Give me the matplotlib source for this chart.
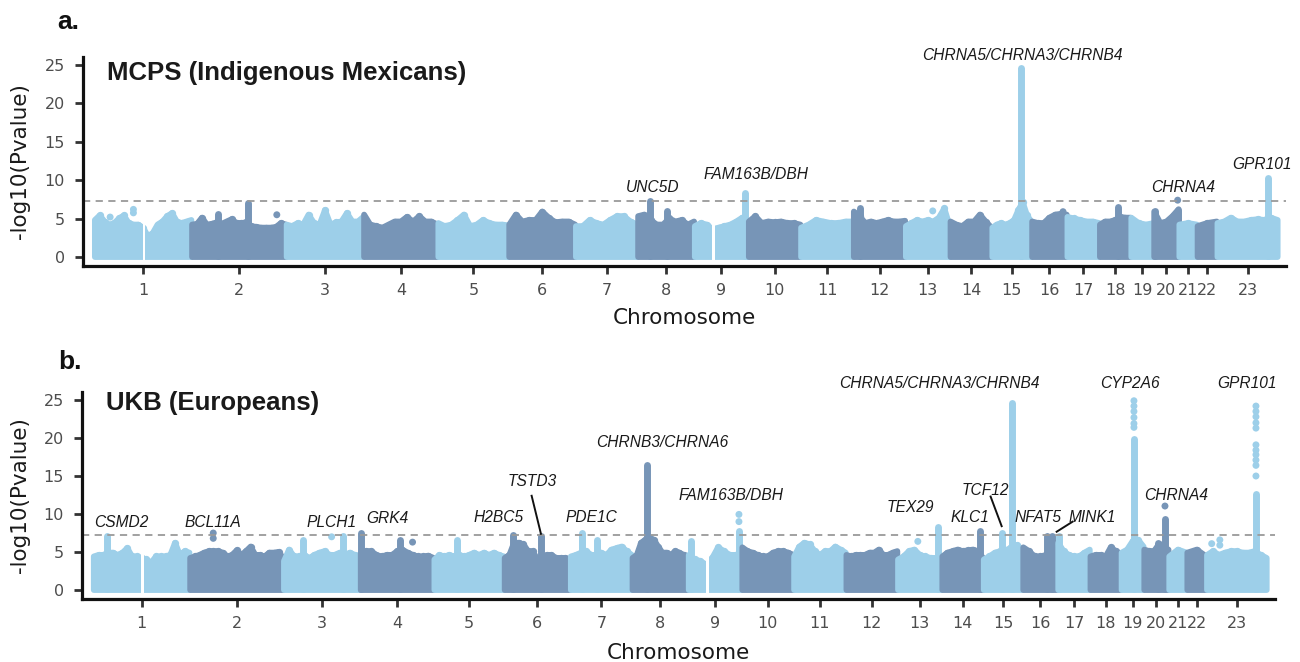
import numpy as np
import matplotlib
matplotlib.use("Agg")
import matplotlib.pyplot as plt

# ---------------- data ----------------
CHROM_LABELS = [str(i) for i in range(1, 24)]
CHROM_LENGTH_MB = [248.96, 242.19, 198.30, 190.21, 181.54, 170.81, 159.35, 145.14,
                   138.39, 133.80, 135.09, 133.28, 114.36, 107.04, 101.99, 90.34,
                   83.26, 80.37, 58.62, 64.44, 46.71, 50.82, 156.04]
GAP_CHROM = [1, 9]
GAP_START_MB = [123.0, 46.0]
GAP_END_MB = [130.0, 53.0]
SIG_THRESHOLD = 7.3

# upper envelope of the dense point cloud, evenly spaced along each chromosome
MCPS_BAND = [
    [5.2, 5.8, 5.0, 4.6, 4.8, 5.4, 5.8, 4.8, 4.6, 4.6, 4.2, 3.1, 3.5, 4.6, 5.0, 5.7, 6.1, 5.0, 4.8, 5.0, 5.2],
    [4.6, 4.7, 5.5, 4.6, 4.7, 4.9, 4.7, 5.0, 5.3, 4.8, 4.8, 4.9, 4.4, 4.3, 4.2, 4.2, 4.2, 4.3, 4.8, 4.6],
    [4.6, 4.4, 4.8, 4.6, 5.9, 4.8, 4.6, 6.5, 4.6, 4.9, 5.0, 6.1, 5.0, 5.0, 5.6],
    [5.9, 4.6, 4.4, 4.2, 4.6, 5.0, 5.0, 5.6, 5.0, 5.7, 5.0, 5.0, 4.6],
    [4.8, 4.4, 4.6, 5.2, 5.9, 4.4, 4.6, 5.2, 4.8, 4.6, 4.6, 4.5],
    [4.6, 5.9, 5.0, 5.2, 5.2, 6.3, 5.5, 4.9, 5.0, 5.0, 4.6],
    [4.4, 4.4, 5.2, 4.8, 4.6, 5.2, 5.7, 5.7, 5.0, 4.6],
    [5.7, 5.9, 5.2, 4.6, 4.6, 5.4, 5.0, 5.2, 4.6, 5.0],
    [4.4, 4.8, 4.6, 4.0, 4.2, 4.4, 4.6, 5.0, 5.5, 5.0],
    [5.0, 5.7, 4.8, 5.0, 4.9, 5.0, 4.8, 4.8, 4.6],
    [4.2, 4.6, 5.2, 5.0, 4.8, 4.8, 5.0, 5.0],
    [6.3, 5.7, 4.8, 5.0, 4.8, 5.0, 5.2, 5.0, 5.0, 5.1],
    [4.4, 4.8, 5.2, 5.0, 5.2, 5.0, 5.5, 6.7, 4.4],
    [5.0, 4.6, 4.4, 5.0, 5.0, 5.9, 5.0, 4.2],
    [4.2, 4.6, 4.8, 4.6, 4.8, 5.2, 6.5, 7.5, 5.8, 5.0],
    [5.0, 4.8, 4.8, 5.5, 5.9, 6.0, 5.9],
    [5.6, 5.4, 5.2, 5.0, 5.0, 4.8],
    [4.6, 5.0, 5.0, 5.2, 5.6, 5.5, 5.5],
    [5.5, 4.8, 4.6, 4.8],
    [6.3, 4.8, 5.0, 5.7, 6.6],
    [4.6, 4.8, 4.6],
    [4.4, 4.8, 5.0],
    [4.8, 5.0, 5.5, 5.0, 5.0, 5.2, 5.3, 5.2, 5.5, 5.2],
]
MCPS_PEAK_CHROM = [2, 2, 8, 8, 9, 12, 15, 18, 20, 20, 23]
MCPS_PEAK_POS_MB = [143.6, 66.7, 31.4, 74.0, 129.6, 16.0, 73.5, 48.0, 61.0, 2.0, 129.6]
MCPS_PEAK_TOP = [7.5, 6.1, 7.8, 6.5, 8.8, 6.8, 25.0, 6.9, 6.6, 6.4, 10.7]
MCPS_DOT_CHROM = [1, 1, 1, 2, 13, 16, 20]
MCPS_DOT_POS_MB = [99.6, 99.6, 40.0, 217.9, 69.7, 80.0, 61.0]
MCPS_DOT_VALUE = [6.2, 5.75, 5.2, 5.5, 6.0, 5.9, 7.4]

UKB_BAND = [
    [4.8, 5.0, 5.0, 5.3, 5.3, 5.0, 5.3, 5.9, 4.8, 4.8, 4.6, 4.4, 4.0, 4.8, 4.8, 4.8, 5.0, 6.6, 5.0, 5.5, 5.3],
    [4.6, 4.8, 5.0, 5.3, 5.5, 5.5, 5.5, 5.3, 4.8, 5.0, 5.6, 5.0, 5.5, 6.1, 5.0, 5.0, 4.8, 5.3, 5.3, 5.4, 4.6],
    [4.2, 5.7, 4.8, 4.8, 5.0, 4.6, 5.0, 5.3, 5.5, 5.0, 5.0, 5.3, 5.0, 5.3, 5.0, 4.8],
    [5.3, 5.5, 5.5, 5.0, 4.8, 5.0, 5.0, 5.5, 5.7, 5.3, 5.0, 4.8, 4.8, 4.9, 4.6],
    [4.4, 5.0, 4.8, 5.0, 4.8, 5.0, 4.8, 5.0, 5.3, 5.0, 5.3, 5.0, 5.3, 5.0, 4.8],
    [4.6, 5.0, 6.6, 6.6, 6.4, 5.5, 5.5, 4.4, 4.2, 5.0, 5.0, 4.6, 4.6, 4.6, 4.4],
    [4.8, 5.0, 5.3, 5.5, 5.0, 5.0, 5.3, 5.0, 5.7, 5.9, 6.1, 5.5, 5.0],
    [4.6, 5.0, 6.6, 7.0, 7.2, 7.0, 6.1, 5.3, 5.3, 5.0, 5.5, 5.3, 5.0, 4.8],
    [5.0, 4.4, 4.2, 3.7, 4.6, 6.0, 5.5, 5.0, 5.0, 5.3],
    [6.0, 5.5, 5.3, 5.0, 4.8, 4.8, 5.3, 5.5, 5.5, 5.3, 5.0],
    [4.8, 6.1, 6.6, 6.4, 5.5, 5.0, 5.5, 5.5, 6.1, 5.7, 5.3],
    [5.0, 4.8, 5.0, 5.0, 5.0, 5.3, 5.3, 5.7, 5.0, 5.0, 5.3, 5.5],
    [4.4, 4.8, 5.5, 5.7, 5.0, 4.8, 4.6, 4.6, 4.4],
    [4.8, 5.3, 5.5, 5.7, 5.5, 5.6, 5.7, 5.5, 4.6],
    [4.4, 4.8, 5.3, 5.5, 5.6, 6.0, 6.3, 5.6],
    [6.0, 5.5, 4.8, 4.8, 5.0, 5.5, 5.7],
    [6.6, 5.5, 5.0, 4.8, 4.8, 5.3, 5.7],
    [4.8, 5.0, 5.0, 4.8, 6.0, 5.5, 5.0],
    [5.3, 5.7, 6.8, 7.0, 6.1],
    [5.7, 5.5, 5.5, 6.4, 6.0, 5.7],
    [4.8, 5.7, 5.3],
    [5.3, 5.7, 4.8],
    [5.0, 5.5, 5.0, 5.3, 5.5, 5.5, 5.3, 5.3, 5.5, 5.0, 4.6],
]
UKB_PEAK_CHROM = [1, 3, 3, 4, 4, 5, 6, 6, 7, 7, 8, 9, 9, 13, 14, 15, 15, 16, 16, 17, 19, 20, 20, 23]
UKB_PEAK_POS_MB = [34.0, 50.7, 154.0, 2.0, 102.0, 58.3, 23.0, 94.7, 28.8, 67.6, 38.9, 8.0,
                   130.6, 104.8, 98.0, 48.6, 73.5, 61.3, 74.3, 3.0, 32.8, 37.0, 54.3, 127.3]
UKB_PEAK_TOP = [7.6, 7.0, 7.6, 8.0, 7.1, 7.1, 7.7, 7.6, 7.9, 7.0, 16.9, 6.9,
                8.2, 8.8, 8.2, 7.9, 25.0, 7.6, 7.6, 7.5, 20.3, 6.7, 9.8, 13.1]
UKB_DOT_CHROM = [2, 2, 3, 4, 9, 9, 13, 20, 23, 23, 23,
                 19, 19, 19, 19, 19, 19,
                 23, 23, 23, 23, 23, 23, 23, 23, 23, 23, 23]
UKB_DOT_POS_MB = [60.5, 60.5, 124.0, 134.7, 130.6, 130.6, 52.0, 54.3, 13.0, 34.0, 34.0,
                  32.8, 32.8, 32.8, 32.8, 32.8, 32.8,
                  127.3, 127.3, 127.3, 127.3, 127.3, 127.3, 127.3, 127.3, 127.3, 127.3, 127.3]
UKB_DOT_VALUE = [7.5, 6.8, 7.0, 6.3, 9.0, 9.95, 6.4, 11.05, 6.1, 6.6, 5.9,
                 24.9, 24.2, 23.5, 22.7, 21.9, 21.4,
                 24.2, 23.5, 22.8, 22.0, 21.3, 19.1, 18.4, 17.8, 17.1, 16.4, 15.0]

MCPS_GENES = ["UNC5D", "FAM163B/DBH", "CHRNA5/CHRNA3/CHRNB4", "CHRNA4", "GPR101"]
UKB_GENES = ["CSMD2", "BCL11A", "PLCH1", "GRK4", "H2BC5", "TSTD3", "PDE1C",
             "CHRNB3/CHRNA6", "FAM163B/DBH", "TEX29", "KLC1", "TCF12", "NFAT5",
             "MINK1", "CHRNA5/CHRNA3/CHRNB4", "CYP2A6", "CHRNA4", "GPR101"]

# ---------------- layout / style ----------------
MCPS_GENE_XY = [(1430.5, 9.0), (1693.7, 10.8), (2375.4, 26.2), (2787.6, 9.0), (2990.0, 12.0)]
UKB_GENE_XY = [(72.8, 8.9), (309.4, 8.9), (616.0, 8.9), (758.0, 9.4), (1046.5, 9.5),
               (1132.5, 14.25), (1287.0, 9.5), (1468.0, 19.4), (1646.0, 12.4), (2111.0, 10.9),
               (2263.0, 9.5), (2304.5, 13.1), (2440.0, 9.5), (2579.0, 9.5), (2186.0, 27.2),
               (2676.0, 27.2), (2795.0, 12.4), (2978.6, 27.2)]
UKB_LEADERS = [((1131.7, 12.4), (1155.7, 7.4)),
               ((2317.0, 12.3), (2345.6, 8.4)),
               ((2529.0, 9.0), (2487.6, 7.67))]

LIGHT = "#9dcfe9"
DARK = "#7795b7"
DOT_PT = 4.2
COL_PT = 5.0
FIG_W, FIG_H = 1300, 662

offsets = np.concatenate([[0.0], np.cumsum(CHROM_LENGTH_MB)[:-1]])
mids = offsets + np.array(CHROM_LENGTH_MB) / 2.0


def chrom_color(c):
    return LIGHT if c % 2 == 1 else DARK


fig = plt.figure(figsize=(FIG_W / 100, FIG_H / 100), dpi=100)


def make_axes(px_left, px_right, px_top, px_bottom, ylim):
    ax = fig.add_axes([px_left / FIG_W, 1 - px_bottom / FIG_H,
                       (px_right - px_left) / FIG_W, (px_bottom - px_top) / FIG_H])
    ax.set_xlim(-29.5, 3051.5)
    ax.set_ylim(*ylim)
    return ax


def draw_panel(ax, band, pk_c, pk_p, pk_t, dt_c, dt_p, dt_v):
    fig.canvas.draw()
    p0 = ax.transData.transform((0, 0))
    p1 = ax.transData.transform((0, 1))
    ppu = p1[1] - p0[1]
    r = (DOT_PT / 2.0) * 100 / 72.0 / ppu
    rc = (COL_PT / 2.0) * 100 / 72.0 / ppu
    for i, vals in enumerate(band):
        c = i + 1
        col = chrom_color(c)
        L = CHROM_LENGTH_MB[i]
        xs = offsets[i] + np.linspace(1.0, L - 1.0, len(vals))
        ys = np.array(vals) - r
        px = np.concatenate([xs, xs[::-1]])
        py = np.concatenate([ys, np.zeros(len(xs))])
        ax.fill(px, py, facecolor=col, edgecolor=col,
                linewidth=DOT_PT, joinstyle="round", zorder=2)
        ax.scatter(xs[1:-1], ys[1:-1], s=(DOT_PT * 1.25) ** 2, color=col,
                   linewidths=0, zorder=2)
        for pc, pp, pt in zip(pk_c, pk_p, pk_t):
            if pc != c:
                continue
            x = offsets[i] + pp
            ax.plot([x, x], [rc - r, pt - rc], color=col, lw=COL_PT,
                    solid_capstyle="round", zorder=2)
    for c, s, e in zip(GAP_CHROM, GAP_START_MB, GAP_END_MB):
        ax.fill_between([offsets[c - 1] + s, offsets[c - 1] + e], -0.75, 14,
                        color="white", linewidth=0, zorder=2.2)
    xs = [offsets[c - 1] + p for c, p in zip(dt_c, dt_p)]
    cols = [chrom_color(c) for c in dt_c]
    ax.scatter(xs, dt_v, s=(COL_PT * 1.0) ** 2, c=cols, linewidths=0, zorder=3.5)
    ax.axhline(SIG_THRESHOLD, color="#9a9a9a", lw=1.3, ls=(0, (4, 3)), zorder=4)


def style_axes(ax, label_x, xlabel_y):
    for s in ["top", "right"]:
        ax.spines[s].set_visible(False)
    for s in ["left", "bottom"]:
        ax.spines[s].set_linewidth(2.3)
        ax.spines[s].set_color("#111111")
        ax.spines[s].set_zorder(5)
    ax.set_xticks(mids)
    ax.set_xticklabels(CHROM_LABELS)
    ax.set_yticks([0, 5, 10, 15, 20, 25])
    ax.tick_params(axis="both", length=6, width=2.0, color="#333333",
                   labelsize=11.5, labelcolor="#4d4d4d", pad=6)
    ax.tick_params(axis="y", pad=7)
    ax.set_ylabel("-log10(Pvalue)", fontsize=15.5, color="#1a1a1a")
    ax.set_xlabel("Chromosome", fontsize=15.5, color="#1a1a1a")
    ax.yaxis.set_label_coords(label_x, 0.5)
    ax.xaxis.set_label_coords(0.5, xlabel_y)


ax_a = make_axes(83, 1286, 57, 266, (-1.17, 26.04))
ax_b = make_axes(82, 1275, 391.7, 599, (-1.18, 26.09))

draw_panel(ax_a, MCPS_BAND, MCPS_PEAK_CHROM, MCPS_PEAK_POS_MB, MCPS_PEAK_TOP,
           MCPS_DOT_CHROM, MCPS_DOT_POS_MB, MCPS_DOT_VALUE)
draw_panel(ax_b, UKB_BAND, UKB_PEAK_CHROM, UKB_PEAK_POS_MB, UKB_PEAK_TOP,
           UKB_DOT_CHROM, UKB_DOT_POS_MB, UKB_DOT_VALUE)

style_axes(ax_a, -0.044, -0.2)
style_axes(ax_b, -0.0436, -0.21)

gene_font = dict(family="Liberation Sans", style="italic", size=11.2, color="#1a1a1a",
                 ha="center", va="center", clip_on=False, zorder=6)
for g, (x, y) in zip(MCPS_GENES, MCPS_GENE_XY):
    ax_a.text(x, y, g, **gene_font)
for g, (x, y) in zip(UKB_GENES, UKB_GENE_XY):
    ax_b.text(x, y, g, **gene_font)
for (x0, y0), (x1, y1) in UKB_LEADERS:
    ax_b.plot([x0, x1], [y0, y1], color="#111111", lw=1.4, zorder=6)

title_font = dict(family="Liberation Sans", weight="bold", size=18.5, color="#1a1a1a",
                  ha="left", va="center")
fig.text(107.3 / FIG_W, 1 - 73 / FIG_H, "MCPS (Indigenous Mexicans)", **title_font)
fig.text(106 / FIG_W, 1 - 402.7 / FIG_H, "UKB (Europeans)", **title_font)
panel_font = dict(family="Liberation Sans", weight="bold", size=19, color="#111111",
                  ha="left", va="center")
fig.text(57 / FIG_W, 1 - 22 / FIG_H, "a.", **panel_font)
fig.text(58 / FIG_W, 1 - 362 / FIG_H, "b.", **panel_font)

fig.savefig("out.png", dpi=100)
